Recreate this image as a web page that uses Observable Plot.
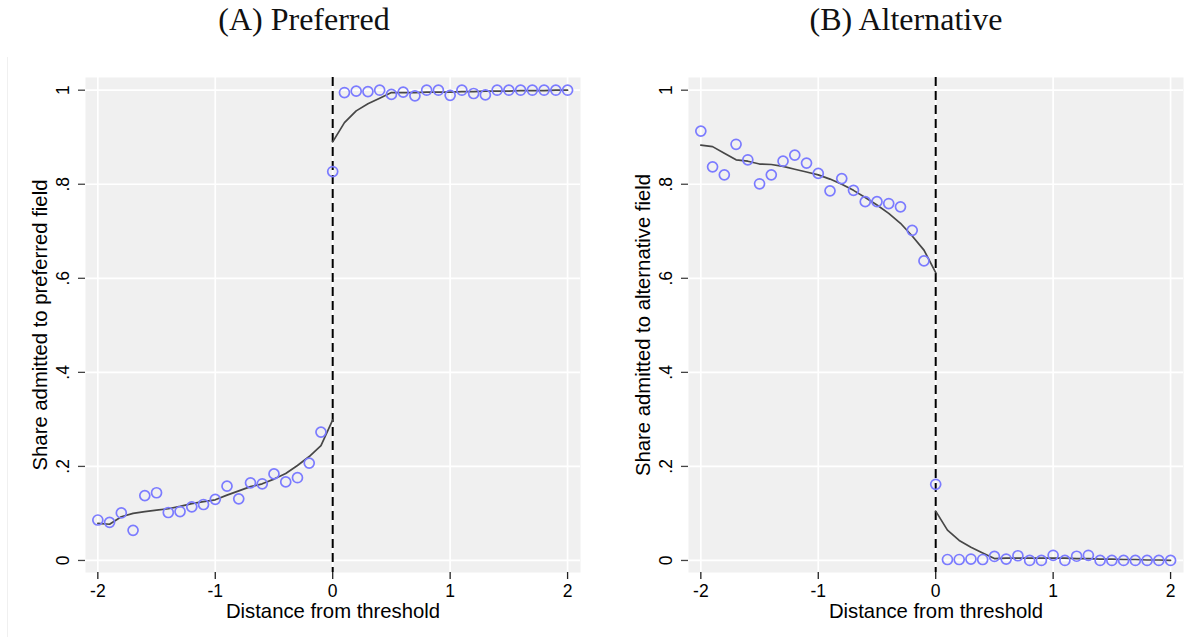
<!DOCTYPE html>
<html>
<head>
<meta charset="utf-8">
<script src="https://cdn.jsdelivr.net/npm/d3@7"></script>
<script src="https://cdn.jsdelivr.net/npm/@observablehq/plot@0.6"></script>
<style>
  body { margin:0; width:1200px; height:637px; position:relative; background:#fff; overflow:hidden; }
  .title { position:absolute; top:-1px; line-height:40px; text-align:center; font-family:"Liberation Serif","Times New Roman",serif; font-size:32px; color:#111; }
  .panel { position:absolute; top:50px; width:600px; }
</style>
</head>
<body>
<div class="title" style="left:0;width:608px;">(A) Preferred</div>
<div class="title" style="left:600px;width:612px;">(B) Alternative</div>
<div style="position:absolute;left:7px;top:57px;width:0;height:580px;border-left:1px solid #f0f0f0;"></div>
<div id="pa" class="panel" style="left:0;"></div>
<div id="pb" class="panel" style="left:600px;"></div>
<script>
// ---- data ----
const bins = [-2,-1.9,-1.8,-1.7,-1.6,-1.5,-1.4,-1.3,-1.2,-1.1,-1,-0.9,-0.8,-0.7,-0.6,-0.5,-0.4,-0.3,-0.2,-0.1,
              0,0.1,0.2,0.3,0.4,0.5,0.6,0.7,0.8,0.9,1,1.1,1.2,1.3,1.4,1.5,1.6,1.7,1.8,1.9,2];
const fitXLeft  = [-2,-1.9,-1.8,-1.7,-1.6,-1.5,-1.4,-1.3,-1.2,-1.1,-1,-0.9,-0.8,-0.7,-0.6,-0.5,-0.4,-0.3,-0.2,-0.1,0];
const fitXRight = [0,0.1,0.2,0.3,0.4,0.5,0.6,0.7,0.8,0.9,1,1.1,1.2,1.3,1.4,1.5,1.6,1.7,1.8,1.9,2];

const prefPoints = [0.086,0.081,0.101,0.064,0.138,0.144,0.102,0.104,0.114,0.119,0.130,0.158,0.131,0.165,0.163,0.184,0.167,0.176,0.207,0.273,
                    0.827,0.995,0.998,0.997,1.000,0.991,0.996,0.988,1.000,1.000,0.989,1.000,0.993,0.990,1.000,1.000,1.000,1.000,1.000,1.000,1.000];
const prefFitLeft  = [0.079,0.077,0.093,0.100,0.104,0.107,0.110,0.115,0.121,0.125,0.129,0.139,0.148,0.157,0.163,0.173,0.185,0.202,0.221,0.244,0.299];
const prefFitRight = [0.890,0.931,0.956,0.971,0.983,0.995,0.995,0.995,0.996,0.996,0.996,0.997,0.997,0.998,0.998,0.998,0.999,0.999,0.999,1.000,1.000];

const altPoints = [0.913,0.837,0.820,0.885,0.852,0.801,0.820,0.849,0.862,0.845,0.823,0.786,0.812,0.787,0.763,0.763,0.759,0.752,0.702,0.637,
                   0.162,0.002,0.002,0.003,0.002,0.0085,0.003,0.010,0.000,0.000,0.011,0.000,0.009,0.011,0.000,0.000,0.000,0.000,0.000,0.000,0.000];
const altFitLeft  = [0.883,0.880,0.866,0.852,0.849,0.843,0.842,0.838,0.832,0.826,0.820,0.811,0.800,0.787,0.772,0.756,0.738,0.717,0.690,0.660,0.612];
const altFitRight = [0.105,0.0645,0.0425,0.028,0.016,0.004,0.005,0.005,0.005,0.005,0.005,0.005,0.004,0.004,0.003,0.003,0.002,0.002,0.001,0.001,0.000];

const xTicks = [-2,-1,0,1,2];
const xTickLabels = ["-2","-1","0","1","2"];
const yTicks = [0,0.2,0.4,0.6,0.8,1];
const yTickLabels = ["0",".2",".4",".6",".8","1"];
const xTitle = "Distance from threshold";
const yTitleA = "Share admitted to preferred field";
const yTitleB = "Share admitted to alternative field";

// ---- chart ----
function panel(points, fitL, fitR, yTitle, mLeft, mRight) {
  const pts = bins.map((x, i) => ({x, y: points[i]}));
  const fit = [
    ...fitXLeft.map((x, i) => ({x, y: fitL[i], side: "L"})),
    ...fitXRight.map((x, i) => ({x, y: fitR[i], side: "R"}))
  ];
  return Plot.plot({
    width: 600, height: 587,
    marginLeft: mLeft, marginRight: mRight, marginTop: 27, marginBottom: 65,
    x: {domain: [-2.105, 2.11]},
    y: {domain: [-0.0256, 1.027]},
    style: {fontFamily: "'Liberation Sans', Arial, sans-serif", fontSize: "17.5px", color: "#000", background: "transparent"},
    marks: [
      Plot.frame({fill: "#f0f0f0", stroke: null}),
      Plot.gridX(xTicks, {stroke: "#fff", strokeOpacity: 1, strokeWidth: 1.7}),
      Plot.gridY(yTicks, {stroke: "#fff", strokeOpacity: 1, strokeWidth: 1.7}),
      Plot.axisX(xTicks, {tickFormat: d => xTickLabels[xTicks.indexOf(d)], tickSize: 7, tickPadding: 5, label: null, stroke: "#222", strokeWidth: 1.3}),
      Plot.axisY(yTicks, {tickFormat: d => yTickLabels[yTicks.indexOf(d)], tickRotate: -90, tickSize: 7, tickPadding: 10, label: null, stroke: "#444", strokeWidth: 1.3}),
      Plot.ruleX([0], {stroke: "#000", strokeWidth: 2, strokeDasharray: "9,5"}),
      Plot.line(fit, {x: "x", y: "y", z: "side", stroke: "#474747", strokeWidth: 1.7}),
      Plot.dot(pts, {x: "x", y: "y", r: 5, stroke: "#7b7bff", strokeWidth: 1.7, fill: "none"}),
      Plot.text([xTitle], {frameAnchor: "bottom", lineAnchor: "middle", dy: 39, fontSize: 20.3, fill: "#000"}),
      Plot.text([yTitle], {frameAnchor: "left", textAnchor: "middle", lineAnchor: "middle", rotate: -90, dx: -45, fontSize: 20.3, fill: "#000"})
    ]
  });
}

document.getElementById("pa").append(panel(prefPoints, prefFitLeft, prefFitRight, yTitleA, 85, 20));
document.getElementById("pb").append(panel(altPoints, altFitLeft, altFitRight, yTitleB, 88, 17));
</script>
</body>
</html>
